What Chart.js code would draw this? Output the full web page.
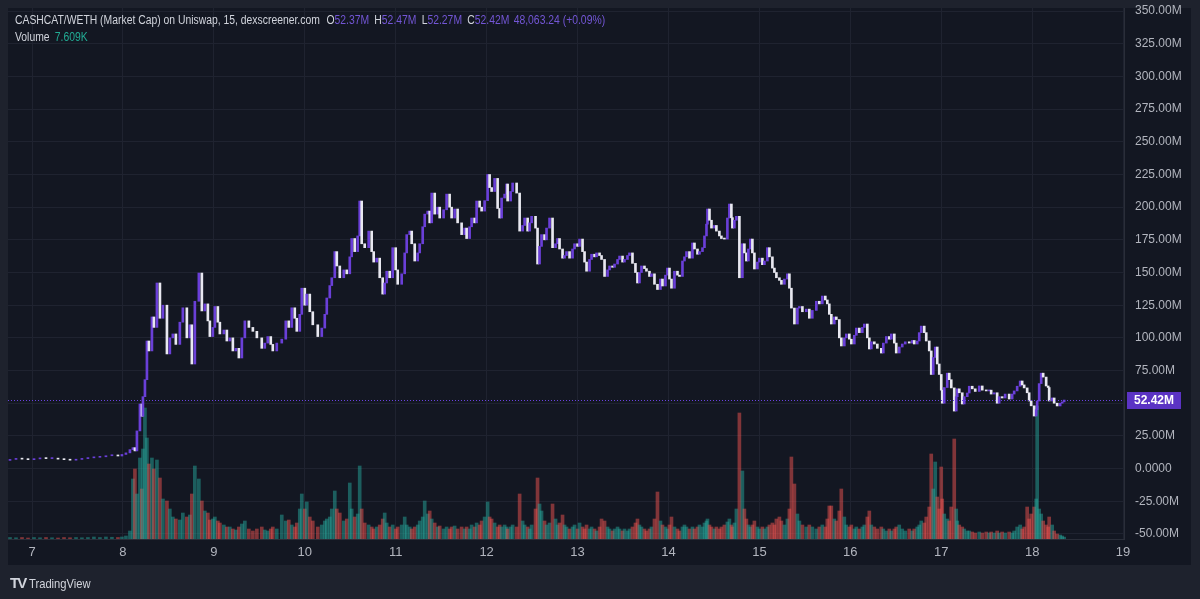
<!DOCTYPE html>
<html>
<head>
<meta charset="utf-8">
<script src="https://cdn.jsdelivr.net/npm/chart.js@4.4.1/dist/chart.umd.min.js"></script>
<style>
    html, body { margin: 0; padding: 0; background: #1e222d; }
    #wrap { position: relative; width: 1200px; height: 599px; overflow: hidden; }
    #chart { position: absolute; left: 0; top: 0; }
    .legend { position: absolute; left: 15px; font: 12px "Liberation Sans", Arial, sans-serif; color: #d1d4dc; white-space: nowrap; transform-origin: 0 50%; }
    .legend .p { color: #7356d6; margin-right: 5px; }
    .legend .k { margin-left: 1px; }
    .legend .g { color: #22ab94; margin-left: 6px; }
    #footer { position: absolute; left: 10px; top: 574px; color: #d1d4dc; white-space: nowrap; font: 13px "Liberation Sans", Arial, sans-serif; }
    #footer b { font: bold 15px "Liberation Sans", Arial, sans-serif; letter-spacing: -2px; margin-right: 4px; }
</style>
</head>
<body>
<div id="wrap">
    <canvas id="chart" width="1200" height="599"></canvas>
    <div class="legend" id="legend1" style="top:13px">CASHCAT/WETH (Market Cap) on Uniswap, 15, dexscreener.com&nbsp;&nbsp;<span class="k">O</span><span class="p">52.37M</span><span class="k">H</span><span class="p">52.47M</span><span class="k">L</span><span class="p">52.27M</span><span class="k">C</span><span class="p">52.42M</span><span class="p">48,063.24 (+0.09%)</span></div>
    <div class="legend" id="legend2" style="top:30px">Volume<span class="g">7.609K</span></div>
    <div id="footer"><b>TV</b><span id="tvtext">TradingView</span></div>
</div>
<script>
// times are in days of the month, prices in millions, volumes in thousands
const times = [
    6.758, 6.824, 6.890, 6.956, 7.022, 7.088, 7.154, 7.220, 7.286, 7.352, 7.418, 7.484, 7.549, 7.615, 7.681, 7.747, 7.813, 7.879, 7.945, 7.989,
    8.033, 8.077, 8.110, 8.132, 8.154, 8.187, 8.209, 8.220, 8.242, 8.264, 8.286, 8.319, 8.341, 8.374, 8.407, 8.440, 8.484, 8.516, 8.549, 8.582, 8.626, 8.659, 8.703, 8.736, 8.758, 8.791, 8.835, 8.868, 8.901, 8.934, 8.956, 8.989,
    9.011, 9.044, 9.066, 9.110, 9.143, 9.176, 9.209, 9.242, 9.275, 9.308, 9.341, 9.385, 9.429, 9.473, 9.527, 9.560, 9.593, 9.626, 9.648, 9.692, 9.747, 9.791, 9.824, 9.857, 9.890, 9.912, 9.945, 9.967,
    10.000, 10.022, 10.055, 10.088, 10.143, 10.187, 10.220, 10.242, 10.275, 10.297, 10.330, 10.352, 10.385, 10.429, 10.462, 10.495, 10.516, 10.549, 10.582, 10.604, 10.626, 10.659, 10.703, 10.736, 10.758, 10.791, 10.824, 10.857, 10.879, 10.901, 10.934, 10.967,
    11.000, 11.022, 11.066, 11.099, 11.121, 11.154, 11.176, 11.209, 11.242, 11.264, 11.297, 11.319, 11.352, 11.374, 11.396, 11.429, 11.462, 11.484, 11.527, 11.560, 11.593, 11.615, 11.648, 11.681, 11.725, 11.758, 11.780, 11.813, 11.835, 11.868, 11.890, 11.923, 11.945, 11.978,
    12.011, 12.033, 12.055, 12.088, 12.121, 12.143, 12.165, 12.198, 12.220, 12.231, 12.264, 12.286, 12.330, 12.363, 12.396, 12.418, 12.451, 12.473, 12.495, 12.538, 12.560, 12.582, 12.604, 12.637, 12.659, 12.692, 12.725, 12.758, 12.780, 12.802, 12.835, 12.857, 12.879, 12.912, 12.945, 12.967,
    13.000, 13.022, 13.055, 13.077, 13.099, 13.132, 13.154, 13.187, 13.209, 13.242, 13.264, 13.297, 13.330, 13.352, 13.385, 13.407, 13.440, 13.462, 13.495, 13.516, 13.549, 13.571, 13.604, 13.637, 13.659, 13.681, 13.703, 13.736, 13.758, 13.791, 13.813, 13.846, 13.879, 13.912, 13.934, 13.967, 13.989,
    14.011, 14.033, 14.066, 14.099, 14.121, 14.154, 14.176, 14.198, 14.231, 14.264, 14.286, 14.319, 14.341, 14.374, 14.396, 14.418, 14.429, 14.451, 14.473, 14.505, 14.527, 14.560, 14.582, 14.615, 14.648, 14.670, 14.692, 14.703, 14.725, 14.747, 14.780, 14.813, 14.835, 14.857, 14.879, 14.901, 14.923, 14.945, 14.978,
    15.000, 15.033, 15.055, 15.088, 15.110, 15.143, 15.165, 15.187, 15.220, 15.242, 15.275, 15.308, 15.330, 15.352, 15.385, 15.418, 15.440, 15.473, 15.516, 15.549, 15.582, 15.626, 15.659, 15.692, 15.725, 15.747, 15.769, 15.791, 15.824, 15.846, 15.879, 15.901, 15.934, 15.956, 15.989,
    16.011, 16.044, 16.066, 16.099, 16.132, 16.154, 16.187, 16.209, 16.231, 16.264, 16.297, 16.341, 16.363, 16.396, 16.429, 16.451, 16.484, 16.505, 16.538, 16.571, 16.604, 16.648, 16.681, 16.703, 16.736, 16.758, 16.780, 16.813, 16.835, 16.868, 16.890, 16.912, 16.934, 16.956, 16.978,
    17.000, 17.011, 17.033, 17.066, 17.088, 17.110, 17.143, 17.165, 17.176, 17.198, 17.231, 17.253, 17.286, 17.308, 17.341, 17.374, 17.418, 17.451, 17.495, 17.527, 17.549, 17.582, 17.615, 17.637, 17.670, 17.703, 17.747, 17.780, 17.802, 17.835, 17.868, 17.890, 17.912, 17.945, 17.967, 17.989,
    18.022, 18.044, 18.055, 18.077, 18.099, 18.121, 18.154, 18.176, 18.187, 18.220, 18.242, 18.275, 18.308, 18.330, 18.352
];
const closes = [
    7.0, 7.6, 7.2, 6.8, 7.4, 8.0, 7.6, 7.8, 7.2, 6.8, 6.4, 7.0, 7.6, 8.2, 8.6, 9.0, 9.8, 10.4, 9.6, 10.8,
    12.0, 14.5, 16.0, 13.5, 28.8, 49.4, 40, 55, 68, 97.6, 90, 116, 108, 142, 115, 125, 87.7, 100, 103, 95, 112, 123, 100, 110, 80, 128, 149.6, 120.6, 126, 113, 101, 108,
    124, 112, 103, 106, 97.6, 100, 90, 92, 84.6, 100, 113, 108, 105, 100, 92, 96, 101, 95, 90, 96, 99, 113, 108, 123, 115, 105, 118, 138,
    125, 133.5, 120, 110, 101, 107.5, 118, 130.5, 140, 146, 166, 155, 146, 152, 149, 162, 176, 166, 178, 204.7, 172, 169, 181.7, 166, 158, 161, 146, 133.5, 142, 151, 146, 169,
    152, 141, 149, 165, 179, 181.7, 172, 158.8, 165, 172, 185, 194.7, 197, 188, 210.8, 194.7, 200, 191.7, 198, 210, 200, 191.7, 198.6, 188, 179, 184, 176, 185, 191.7, 188, 204.7, 200, 197, 205,
    225, 215, 212, 222, 199, 191.7, 207, 210, 217.7, 204.7, 212, 218.5, 210.8, 181.7, 186, 191.7, 181.7, 188, 193, 184, 156.5, 170, 179, 175, 184, 191.7, 169, 172, 176, 168, 161, 163, 166, 161, 168, 172,
    170, 175.6, 166, 158, 151, 160, 164, 162, 165, 163, 160, 147, 152, 155, 154, 156.5, 160, 162.6, 158, 160, 163, 165, 157, 150, 142, 150, 155, 153, 151, 147, 149, 141, 137, 145, 139.7, 148, 153.4,
    145, 138, 151, 148, 147, 158.8, 162, 166, 161, 172.6, 168, 164, 166, 169, 178, 187, 198.6, 190, 184, 186, 181.7, 178, 176, 175.6, 191.7, 202.4, 192, 184, 190, 193, 146, 172, 165, 158.8, 168, 175.6, 165, 152.7, 158,
    161, 156, 158.8, 169, 162, 153.4, 150, 146, 144, 141, 145, 149, 138, 122.8, 110.6, 122.8, 124, 120, 122, 115, 121, 128, 126, 132, 129, 126, 118, 110.6, 116, 114, 100, 93.8, 100, 103, 99,
    95.3, 102, 107.5, 104, 108, 110.6, 100, 91.5, 97, 95.3, 92, 88.4, 96, 101, 99, 103, 96, 88.4, 93, 95.3, 97, 96, 98, 95.3, 97.6, 104, 109, 104, 97.6, 90, 72, 85, 93, 80, 72,
    60, 50, 62, 73, 68, 61.7, 44, 55, 61, 58, 49.4, 55, 57.8, 63, 61, 59, 63.2, 60, 59.4, 60, 57, 58, 50, 55, 54, 57, 53.2, 57, 59.4, 63, 67, 64, 61.7, 58, 51.7, 48,
    40.2, 45, 51.7, 65, 73, 70, 63.2, 62, 51.7, 54, 50, 47.9, 50, 51, 52.42
];
const volumes = [
    6, 5, 6, 4, 6, 5, 6, 5, 4, 6, 5, 6, 5, 6, 8, 6, 8, 7, 6, 8,
    12, 32, 240, 280, 180, 324, 200, 360, 524, 404, 300, 324, 280, 316, 244, 160, 152, 120, 88, 80, 76, 104, 88, 96, 180, 292, 240, 152, 112, 104, 76, 80,
    88, 72, 64, 56, 48, 48, 40, 36, 48, 60, 72, 40, 32, 40, 48, 36, 32, 40, 48, 40, 96, 72, 76, 56, 48, 64, 120, 180,
    120, 148, 88, 72, 48, 56, 72, 80, 88, 120, 192, 120, 104, 72, 80, 224, 120, 88, 100, 292, 120, 64, 56, 48, 40, 48, 56, 80, 104, 64, 48, 56,
    40, 48, 56, 88, 56, 48, 40, 48, 56, 72, 88, 152, 100, 112, 80, 64, 48, 52, 40, 48, 40, 48, 52, 40, 48, 40, 48, 40, 56, 48, 64, 56, 72, 88,
    148, 88, 80, 64, 48, 56, 48, 56, 48, 40, 48, 56, 48, 180, 72, 56, 48, 40, 56, 120, 244, 140, 112, 72, 56, 64, 140, 80, 56, 64, 96, 56, 48, 40, 48, 56,
    40, 64, 48, 40, 56, 40, 48, 40, 32, 48, 80, 72, 48, 40, 32, 40, 48, 40, 32, 40, 32, 40, 48, 64, 80, 56, 48, 40, 32, 40, 48, 80, 188, 72, 56, 48, 40,
    56, 88, 48, 40, 32, 48, 56, 48, 40, 48, 40, 48, 56, 48, 64, 72, 80, 56, 48, 40, 48, 40, 48, 56, 68, 80, 56, 48, 64, 120, 504, 272, 120, 80, 56, 48, 56, 72, 48,
    40, 48, 40, 48, 56, 64, 56, 80, 88, 72, 56, 80, 120, 328, 220, 100, 72, 56, 48, 56, 48, 40, 48, 56, 48, 80, 132, 132, 80, 72, 112, 200, 88, 56, 48,
    56, 40, 48, 40, 48, 56, 88, 112, 56, 48, 40, 48, 40, 32, 40, 32, 40, 48, 56, 40, 32, 40, 32, 40, 48, 56, 72, 64, 88, 128, 340, 200, 308, 168, 120,
    288, 160, 100, 80, 72, 128, 400, 120, 72, 56, 48, 40, 32, 32, 28, 24, 28, 24, 28, 24, 28, 24, 32, 24, 28, 24, 28, 24, 32, 48, 56, 40, 48, 128, 80, 100,
    128, 160, 532, 120, 100, 72, 56, 48, 88, 56, 32, 20, 16, 12, 7.609
];
const dayTicks = [7, 8, 9, 10, 11, 12, 13, 14, 15, 16, 17, 18, 19];
const priceTicks = [-50, -25, 0, 25, 50, 75, 100, 125, 150, 175, 200, 225, 250, 275, 300, 325, 350];
const lastPrice = 52.42;

const UP = '#6a3fd8';
const DOWN = '#e8e8f0';
const VOL_UP = 'rgba(38, 166, 154, 0.5)';
const VOL_DOWN = 'rgba(239, 83, 80, 0.5)';

// candles: open is the previous close
const candles = [];
const vols = [];
const candleColors = [];
const volColors = [];
times.forEach((t, i) => {
    const open = i > 0 ? closes[i - 1] : closes[0];
    const up = closes[i] >= open;
    candles.push({ x: t, y: [open, closes[i]] });
    vols.push({ x: t, y: volumes[i] });
    candleColors.push(up ? UP : DOWN);
    volColors.push(up ? VOL_UP : VOL_DOWN);
});

function fmtPrice(v) {
    if (v === 0) return '0.0000';
    return v.toFixed(2) + 'M';
}

// panel backgrounds
const backdrop = {
    id: 'backdrop',
    beforeDraw(chart) {
        const c = chart.ctx;
        c.save();
        c.fillStyle = '#1e222d';
        c.fillRect(0, 0, chart.width, chart.height);
        c.fillStyle = '#131722';
        c.fillRect(8, 8, 1183, 557);
        c.restore();
    }
};

// dotted last price line and its label
const lastLine = {
    id: 'lastLine',
    afterDatasetsDraw(chart) {
        const c = chart.ctx;
        const area = chart.chartArea;
        const y = Math.round(chart.scales.y.getPixelForValue(lastPrice)) + 0.5;
        c.save();
        c.strokeStyle = '#6a42e0';
        c.lineWidth = 1;
        c.setLineDash([1, 2]);
        c.beginPath();
        c.moveTo(area.left, y);
        c.lineTo(area.right, y);
        c.stroke();
        c.restore();
    },
    afterDraw(chart) {
        const c = chart.ctx;
        const y = chart.scales.y.getPixelForValue(lastPrice);
        c.save();
        c.fillStyle = '#5b33c4';
        c.fillRect(1127, Math.round(y) - 8, 54, 17);
        c.fillStyle = '#ffffff';
        c.font = 'bold 12px "Liberation Sans", Arial, sans-serif';
        c.textBaseline = 'middle';
        c.fillText(fmtPrice(lastPrice), 1134, Math.round(y) + 1);
        c.restore();
    }
};

const config = {
    type: 'bar',
    data: {
        datasets: [
            {
                label: 'Market Cap',
                data: candles,
                backgroundColor: candleColors,
                barThickness: 2,
                minBarLength: 1,
                grouped: false,
                yAxisID: 'y',
                order: 0,
            },
            {
                label: 'Volume',
                data: vols,
                backgroundColor: volColors,
                barThickness: 3,
                grouped: false,
                yAxisID: 'yv',
                order: 1,
            }
        ]
    },
    options: {
        responsive: false,
        animation: false,
        devicePixelRatio: 1,
        layout: { padding: { left: 8, top: 8, right: 9, bottom: 34 } },
        plugins: {
            legend: { display: false },
            tooltip: { enabled: false },
        },
        scales: {
            x: {
                type: 'linear',
                offset: false,
                min: 6.736,
                max: 19.01,
                afterBuildTicks: (scale) => { scale.ticks = dayTicks.map(v => ({ value: v })); },
                afterFit: (scale) => {
                    scale.height = 26;
                    scale.paddingLeft = 0;
                    scale.paddingRight = 0;
                },
                grid: { color: '#1f2330', drawTicks: false, offset: false },
                border: { color: '#2a2e39' },
                ticks: {
                    color: '#b2b5be',
                    padding: 6,
                    maxRotation: 0,
                    font: { family: '"Liberation Sans", Arial, sans-serif', size: 13 },
                    callback: (v) => String(v),
                },
            },
            y: {
                position: 'right',
                min: -53.9,
                max: 352.4,
                afterBuildTicks: (scale) => { scale.ticks = priceTicks.map(v => ({ value: v })); },
                afterFit: (scale) => {
                    scale.width = 67;
                    scale.paddingTop = 0;
                    scale.paddingBottom = 0;
                },
                grid: { color: '#1f2330', drawTicks: false },
                border: { color: '#2a2e39' },
                ticks: {
                    color: '#b2b5be',
                    padding: 11,
                    font: { family: '"Liberation Sans", Arial, sans-serif', size: 12 },
                    callback: (v) => fmtPrice(v),
                },
            },
            yv: {
                display: false,
                min: 0,
                max: 2124,
            },
        },
    },
    plugins: [backdrop, lastLine],
};

window.addEventListener('load', () => {
    new Chart(document.getElementById('chart').getContext('2d'), config);

    // squeeze legend text to the narrow width of the original
    const l1 = document.getElementById('legend1');
    const k = 594 / l1.offsetWidth;
    l1.style.transform = `scaleX(${k})`;
    document.getElementById('legend2').style.transform = `scaleX(${k})`;
    const tv = document.getElementById('tvtext');
    tv.style.display = 'inline-block';
    tv.style.transformOrigin = '0 50%';
    tv.style.transform = `scaleX(${62 / tv.offsetWidth})`;
});
</script>
</body>
</html>
